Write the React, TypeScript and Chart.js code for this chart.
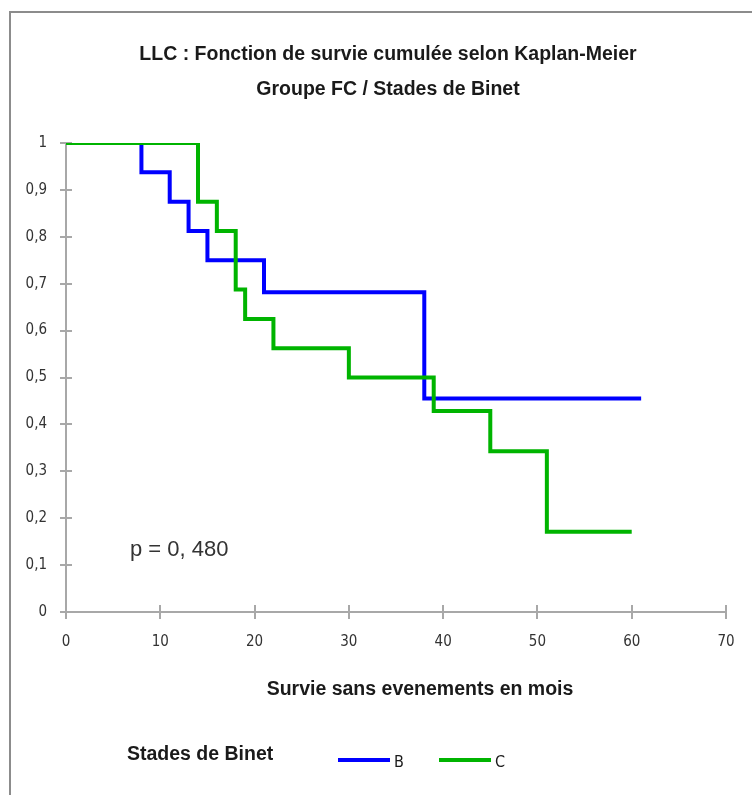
import React, { useEffect, useRef } from "react";
import { Chart, registerables } from "chart.js";

Chart.register(...registerables);

// Kaplan-Meier estimates: month of each event and survival after it
const monthsB = [0, 8, 11, 13, 15, 21, 38, 61];
const survivalB = [1, 0.9375, 0.875, 0.8125, 0.75, 0.682, 0.455, 0.455];

const monthsC = [0, 14, 16, 18, 19, 22, 30, 39, 45, 51, 60];
const survivalC = [1, 0.875, 0.8125, 0.6875, 0.625, 0.5625, 0.5, 0.4286, 0.343, 0.171, 0.171];

const seriesNames = ["B", "C"];
const seriesColors = ["#0000ff", "#00b400"];

const titleLines = [
  "LLC : Fonction de survie cumulée selon Kaplan-Meier",
  "Groupe FC / Stades de Binet",
];
const xAxisTitle = "Survie sans evenements en mois";
const legendTitle = "Stades de Binet";
const pValueLabel = "p = 0, 480";

const NARROW = '"DejaVu Sans Condensed", "Liberation Sans Narrow", "Liberation Sans", sans-serif';
const REGULAR = '"Liberation Sans", Arial, sans-serif';
const AXIS_GREY = "#a8a8a8";

function formatSurvival(v: number): string {
  if (v === 0) return "0";
  if (v === 1) return "1";
  return v.toFixed(1).replace(".", ",");
}

export default function App() {
  const canvasRef = useRef<HTMLCanvasElement>(null);

  useEffect(() => {
    const canvas = canvasRef.current;
    if (!canvas) return;

    const decorations = {
      id: "decorations",
      beforeDatasetsDraw(chart: any) {
        // inner half of the axis tick marks (they cross the axis lines)
        const { ctx, chartArea, scales } = chart;
        ctx.save();
        ctx.strokeStyle = AXIS_GREY;
        ctx.lineWidth = 2;
        ctx.beginPath();
        for (const t of scales.y.ticks) {
          const py = Math.round(scales.y.getPixelForValue(t.value));
          ctx.moveTo(chartArea.left, py);
          ctx.lineTo(chartArea.left + 6, py);
        }
        for (const t of scales.x.ticks) {
          const px = Math.round(scales.x.getPixelForValue(t.value));
          ctx.moveTo(px, chartArea.bottom);
          ctx.lineTo(px, chartArea.bottom - 7);
        }
        ctx.stroke();
        ctx.restore();
      },
      afterDraw(chart: any) {
        const { ctx } = chart;
        ctx.save();

        // frame
        ctx.strokeStyle = "#8c8c8c";
        ctx.lineWidth = 2;
        ctx.strokeRect(10, 12, 760, 800);

        // title
        ctx.fillStyle = "#1a1a1a";
        ctx.textAlign = "center";
        ctx.textBaseline = "middle";
        ctx.font = `bold 19.5px ${REGULAR}`;
        ctx.fillText(titleLines[0], 388, 55);
        ctx.fillText(titleLines[1], 388, 90);

        // x axis title
        ctx.font = `bold 19.5px ${REGULAR}`;
        ctx.fillText(xAxisTitle, 420, 690);

        // p-value
        ctx.textAlign = "left";
        ctx.fillStyle = "#333333";
        ctx.font = `22px ${REGULAR}`;
        ctx.fillText(pValueLabel, 130, 550);

        // legend
        ctx.fillStyle = "#1a1a1a";
        ctx.font = `bold 19.5px ${REGULAR}`;
        ctx.fillText(legendTitle, 127, 755);
        const items = [
          { x: 338, name: seriesNames[0], color: seriesColors[0] },
          { x: 439, name: seriesNames[1], color: seriesColors[1] },
        ];
        for (const it of items) {
          ctx.strokeStyle = it.color;
          ctx.lineWidth = 4;
          ctx.beginPath();
          ctx.moveTo(it.x, 760);
          ctx.lineTo(it.x + 52, 760);
          ctx.stroke();
          ctx.fillStyle = "#1a1a1a";
          ctx.font = `16px ${NARROW}`;
          ctx.fillText(it.name, it.x + 56, 763);
        }
        ctx.restore();
      },
    };

    const chart = new Chart(canvas, {
      type: "line",
      data: {
        datasets: [
          {
            label: seriesNames[0],
            data: monthsB.map((m, i) => ({ x: m, y: survivalB[i] })),
            borderColor: seriesColors[0],
            borderWidth: 4,
            stepped: "before",
            pointRadius: 0,
            fill: false,
            order: 1,
          },
          {
            label: seriesNames[1],
            data: monthsC.map((m, i) => ({ x: m, y: survivalC[i] })),
            borderColor: seriesColors[1],
            borderWidth: 4,
            stepped: "before",
            pointRadius: 0,
            fill: false,
            order: 0,
          },
        ],
      },
      options: {
        animation: false,
        responsive: false,
        layout: { padding: { left: 16, right: 26, top: 143, bottom: 143 } },
        plugins: {
          legend: { display: false },
          title: { display: false },
          tooltip: { enabled: false },
        },
        scales: {
          x: {
            type: "linear",
            min: 0,
            max: 70,
            afterFit: (s: any) => {
              s.height = 40;
            },
            ticks: {
              stepSize: 10,
              padding: 14,
              color: "#333333",
              font: { family: NARROW, size: 15 },
              maxRotation: 0,
            },
            grid: {
              drawOnChartArea: false,
              drawTicks: true,
              tickLength: 7,
              color: AXIS_GREY,
              lineWidth: 2,
            },
            border: { color: AXIS_GREY, width: 2 },
          },
          y: {
            type: "linear",
            min: 0,
            max: 1,
            afterFit: (s: any) => {
              s.width = 50;
            },
            ticks: {
              stepSize: 0.1,
              padding: 13,
              color: "#333333",
              font: { family: NARROW, size: 15 },
              callback: (v: any) => formatSurvival(Number(v)),
            },
            grid: {
              drawOnChartArea: false,
              drawTicks: true,
              tickLength: 6,
              color: AXIS_GREY,
              lineWidth: 2,
            },
            border: { color: AXIS_GREY, width: 2 },
          },
        },
      },
      plugins: [decorations],
    } as any);

    return () => chart.destroy();
  }, []);

  return (
    <div style={{ position: "absolute", left: 0, top: 0, width: 752, height: 795, background: "#ffffff" }}>
      <canvas ref={canvasRef} width={752} height={795} style={{ display: "block" }} />
    </div>
  );
}
